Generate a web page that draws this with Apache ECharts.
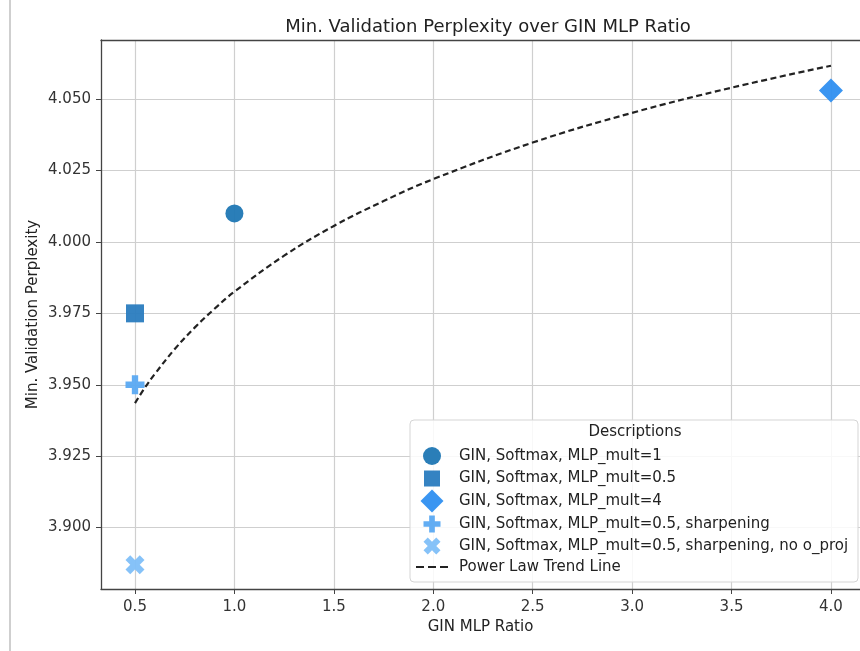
<!DOCTYPE html>
<html>
<head>
<meta charset="utf-8">
<script src="https://cdn.jsdelivr.net/npm/echarts@6/dist/echarts.min.js"></script>
<style>html,body{margin:0;padding:0;background:#fff;}#chart{width:860px;height:651px;}</style>
</head>
<body>
<div id="chart"></div>
<script>
// ---- data ----
var seriesNames = [
  'GIN, Softmax, MLP_mult=1',
  'GIN, Softmax, MLP_mult=0.5',
  'GIN, Softmax, MLP_mult=4',
  'GIN, Softmax, MLP_mult=0.5, sharpening',
  'GIN, Softmax, MLP_mult=0.5, sharpening, no o_proj'
];
var pointX = [1.0, 0.5, 4.0, 0.5, 0.5];
var pointY = [4.010, 3.975, 4.053, 3.950, 3.887];
var trendName = 'Power Law Trend Line';
var trendX = [0.5, 0.55, 0.6, 0.7, 0.8, 0.9, 1.0, 1.25, 1.5, 1.75, 2.0, 2.5, 3.0, 3.5, 4.0];
var trendY = [3.9436, 3.949, 3.9538, 3.9625, 3.970, 3.9766, 3.9826, 3.9952, 4.0056, 4.0143, 4.022, 4.0348, 4.0452, 4.054, 4.0617];
var xTicks = [0.5, 1.0, 1.5, 2.0, 2.5, 3.0, 3.5, 4.0];
var yTicks = [3.900, 3.925, 3.950, 3.975, 4.000, 4.025, 4.050];

// ---- styles ----
var FONT = 'DejaVu Sans';
var colors = ['#1f77b4', '#2a7cbf', '#2f8ff0', '#5aa9f2', '#7fbff8'];
var plusPath = 'path://M-1,-3L1,-3L1,-1L3,-1L3,1L1,1L1,3L-1,3L-1,1L-3,1L-3,-1L-1,-1Z';
var xPath = 'path://M2,-4L4,-2L2,0L4,2L2,4L0,2L-2,4L-4,2L-2,0L-4,-2L-2,-4L0,-2Z';
var dashPath = 'path://M0,0L8,0L8,2.2L0,2.2Z M12,0L20,0L20,2.2L12,2.2Z M24,0L32,0L32,2.2L24,2.2Z';
var symbols = ['circle', 'rect', 'diamond', plusPath, xPath];
var sizes = [18, 18, [24, 24], 19, 19];
var legendIconSizes = [18, 16, 23, 17, 17];
var legendRowY = [456, 479, 501, 524, 546, 568];
var XMIN = 0.329, XMAX = 4.146;

var series = seriesNames.map(function (n, i) {
  return {
    name: n, type: 'scatter', symbol: symbols[i], symbolSize: sizes[i],
    itemStyle: { color: colors[i], opacity: 0.95 },
    data: [[pointX[i], pointY[i]]], z: 3
  };
});
series.push({
  name: trendName, type: 'line', smooth: 0.4, symbol: 'none',
  lineStyle: { color: '#222', width: 2.2, type: [6, 3.5] },
  itemStyle: { color: '#222' },
  data: trendX.map(function (x, i) { return [x, trendY[i]]; }), z: 4
});

var ICON_CX = 432, TEXT_X = 459, TEXT_H = 17;
var legends = seriesNames.map(function (n, i) {
  var s = legendIconSizes[i];
  return {
    orient: 'vertical', padding: 0,
    left: ICON_CX - s / 2, top: legendRowY[i] - Math.max(s, TEXT_H) / 2,
    itemWidth: s, itemHeight: s,
    data: [n],
    textStyle: { fontFamily: FONT, fontSize: 15, color: '#222', padding: [0, 0, 0, TEXT_X - 5 - (ICON_CX + s / 2)] },
    z: 10
  };
});
legends.push({
  orient: 'vertical', padding: 0,
  left: ICON_CX - 16, top: legendRowY[5] - TEXT_H / 2,
  itemWidth: 32, itemHeight: 16,
  data: [{ name: trendName, icon: dashPath }],
  textStyle: { fontFamily: FONT, fontSize: 15, color: '#222', padding: [0, 0, 0, TEXT_X - 5 - (ICON_CX + 16)] },
  z: 10
});

var chart = echarts.init(document.getElementById('chart'));
chart.setOption({
  animation: false,
  backgroundColor: '#fff',
  textStyle: { fontFamily: FONT },
  title: {
    text: 'Min. Validation Perplexity over GIN MLP Ratio',
    left: 483, top: 13, textAlign: 'center',
    textStyle: { fontFamily: FONT, fontSize: 18, fontWeight: 'normal', color: '#222' }
  },
  grid: { left: 101, top: 40, width: 759, height: 549, show: false, containLabel: false },
  xAxis: [{
    type: 'value', min: XMIN, max: XMAX,
    name: 'GIN MLP Ratio', nameLocation: 'middle', nameGap: 31,
    nameTextStyle: { fontFamily: FONT, fontSize: 15, color: '#222' },
    axisLine: { show: true, lineStyle: { color: '#444', width: 1.3 } },
    axisTick: { show: true, inside: false, length: 5, lineStyle: { color: '#444' }, customValues: xTicks },
    axisLabel: { fontFamily: FONT, fontSize: 15, color: '#333', margin: 11, customValues: xTicks,
      formatter: function (v) { return v.toFixed(1); } },
    splitLine: { show: true, lineStyle: { color: '#cfcfcf', width: 1.2 } }
  }, {
    type: 'value', position: 'top', min: XMIN, max: XMAX,
    axisLine: { show: true, onZero: false, lineStyle: { color: '#444', width: 1.3 } },
    axisTick: { show: false }, axisLabel: { show: false }, splitLine: { show: false }
  }],
  yAxis: {
    type: 'value', min: 3.8785, max: 4.0707,
    name: 'Min. Validation Perplexity', nameLocation: 'middle', nameGap: 60, nameMoveOverlap: false,
    nameTextStyle: { fontFamily: FONT, fontSize: 15, color: '#222' },
    axisLine: { show: true, lineStyle: { color: '#444', width: 1.3 } },
    axisTick: { show: true, inside: false, length: 5, lineStyle: { color: '#444' }, customValues: yTicks },
    axisLabel: { fontFamily: FONT, fontSize: 15, color: '#333', margin: 10, customValues: yTicks,
      formatter: function (v) { return v.toFixed(3); } },
    splitLine: { show: true, lineStyle: { color: '#cfcfcf', width: 1.2 } }
  },
  legend: legends,
  graphic: [
    { type: 'line', shape: { x1: 10, y1: 0, x2: 10, y2: 651 }, style: { stroke: '#cfcfcf', lineWidth: 2 } },
    { type: 'rect', shape: { x: 410, y: 420, width: 448, height: 162, r: 4 },
      style: { fill: 'rgba(255,255,255,0.85)', stroke: '#d5d5d5', lineWidth: 1 }, z: 9 },
    { type: 'text', x: 635, y: 432, z: 10,
      style: { text: 'Descriptions', fontFamily: FONT, fontSize: 15, fill: '#222', align: 'center', verticalAlign: 'middle' } }
  ],
  series: series
});
</script>
</body>
</html>
